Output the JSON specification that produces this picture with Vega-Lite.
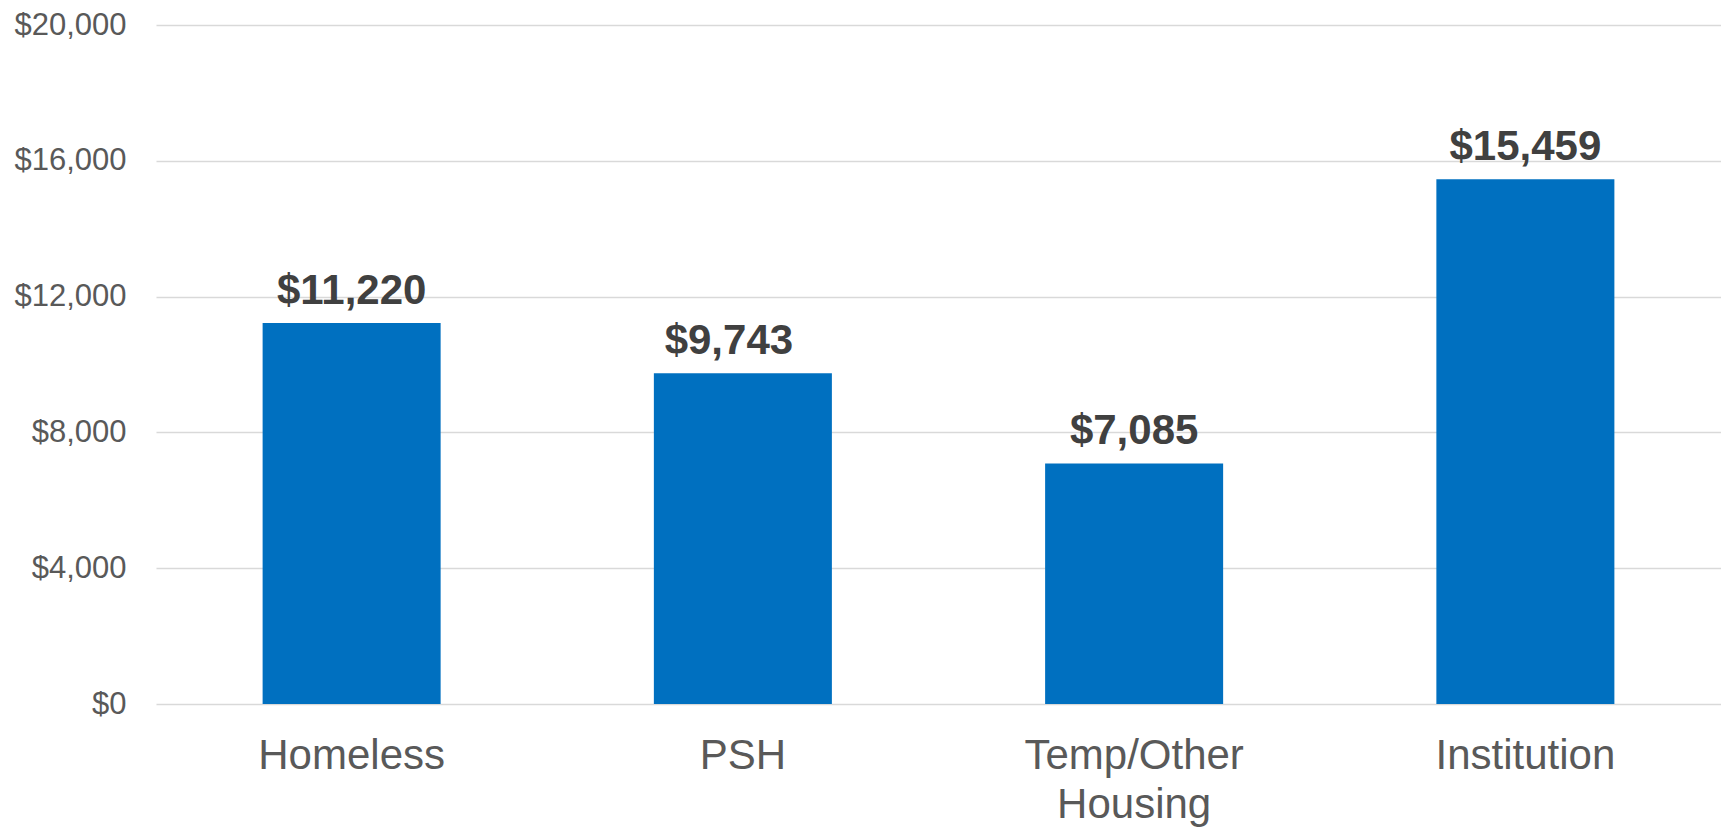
{
  "$schema": "https://vega.github.io/schema/vega-lite/v6.json",
  "autosize": "none",
  "width": 1565,
  "height": 679,
  "padding": {"left": 156, "top": 25, "right": 0, "bottom": 123},
  "background": "white",
  "config": {"view": {"stroke": null}, "font": "Liberation Sans"},
  "data": {"values": [
    {"category": "Homeless", "cost": 11220},
    {"category": "PSH", "cost": 9743},
    {"category": "Temp/Other Housing", "cost": 7085},
    {"category": "Institution", "cost": 15459}
  ]},
  "encoding": {
    "x": {"field": "category", "type": "nominal", "sort": null,
      "scale": {"paddingInner": 0.545, "paddingOuter": 0.2725},
      "axis": {"title": null, "labelAngle": 0, "domain": false, "ticks": false,
        "labelFont": "Liberation Sans", "labelFontSize": 42, "labelColor": "#595959",
        "labelPadding": 31, "labelLineHeight": 49, "labelBaseline": "top", "labelLimit": 0,
        "labelExpr": "datum.label == 'Temp/Other Housing' ? ['Temp/Other', 'Housing'] : datum.label"}},
    "y": {"field": "cost", "type": "quantitative",
      "scale": {"domain": [0, 20000], "nice": false},
      "axis": {"title": null, "values": [0, 4000, 8000, 12000, 16000, 20000], "format": "$,.0f",
        "domain": false, "ticks": false, "grid": true, "gridColor": "#d9d9d9", "gridWidth": 1.5,
        "labelFont": "Liberation Sans", "labelFontSize": 31, "labelColor": "#595959", "labelPadding": 30}}
  },
  "layer": [
    {"mark": {"type": "bar", "color": "#0070C0"}},
    {"transform": [{"filter": "datum.category != 'PSH'"}],
      "mark": {"type": "text", "baseline": "alphabetic", "dy": -19, "fontSize": 42, "fontWeight": "bold", "color": "#404040", "font": "Liberation Sans"},
      "encoding": {"text": {"field": "cost", "type": "quantitative", "format": "$,.0f"}}},
    {"transform": [{"filter": "datum.category == 'PSH'"}],
      "mark": {"type": "text", "baseline": "alphabetic", "dy": -19, "dx": -14, "fontSize": 42, "fontWeight": "bold", "color": "#404040", "font": "Liberation Sans"},
      "encoding": {"text": {"field": "cost", "type": "quantitative", "format": "$,.0f"}}}
  ]
}
